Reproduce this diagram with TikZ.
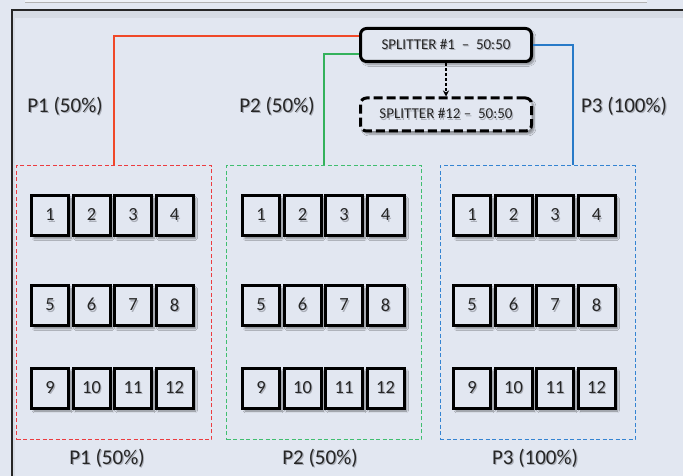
\documentclass[tikz,border=0pt]{standalone}
\usepackage{fontspec}
\setmainfont{Carlito}
\usetikzlibrary{shadows,shadows.blur,arrows.meta}
\definecolor{bg}{HTML}{E2E7F1}
\definecolor{redln}{RGB}{240,72,40}
\definecolor{grnln}{RGB}{52,178,92}
\definecolor{bluln}{RGB}{40,122,200}
\definecolor{redbx}{RGB}{236,60,64}
\definecolor{grnbx}{RGB}{64,190,112}
\definecolor{blubx}{RGB}{52,132,210}
\definecolor{txt}{RGB}{38,38,38}
\definecolor{txtsh}{RGB}{170,174,184}
\newcommand\shd[1]{\leavevmode\rlap{\hspace{1.2pt}\raisebox{-1.5pt}{\textcolor{txtsh}{#1}}}#1}
\tikzset{
  sq/.style={draw=black, line width=3pt, minimum width=37pt, minimum height=40pt, inner sep=0pt,
    fill=bg, text=txt, font=\fontsize{18.5}{20}\selectfont,
    blur shadow={shadow xshift=2.5pt, shadow yshift=-3pt, shadow blur steps=8, shadow opacity=45}},
  grp/.style={draw=#1, line width=1pt, dash pattern=on 4pt off 2.5pt, minimum width=195pt, minimum height=274pt, inner sep=0pt},
  splitbox/.style={draw=black, line width=3pt, rounded corners=6pt, minimum width=171pt, minimum height=33pt,
    inner sep=0pt, fill=bg, text=txt, font=\fontsize{15}{17}\selectfont,
    blur shadow={shadow xshift=2.5pt, shadow yshift=-3pt, shadow blur steps=8, shadow opacity=40}},
  lbl/.style={text=txt, font=\fontsize{21}{24}\selectfont, inner sep=0pt},
  conn/.style={line width=1.5pt},
}
\begin{document}
\begin{tikzpicture}[x=1pt,y=-1pt]
\fill[bg] (0,0) rectangle (683,476);
\useasboundingbox (0,0) rectangle (683,476);
% top strip
\fill[bg!60!white] (25,0) rectangle (647,1.8);
\draw[gray!60, line width=0.4pt] (25,1.8) -- (647,1.8);
% inner shadow of frame
\fill[black, opacity=0.05] (12,10) rectangle (683,18);
\fill[black, opacity=0.05] (12,18) rectangle (15,476);
% frame
\draw[line width=1.4pt, black!85] (12,476) -- (12,10) -- (683,10);

% group boxes
\node[grp=redbx] (p1) at (114,302.5) {};
\node[grp=grnbx] (p2) at (324,302.5) {};
\node[grp=blubx] (p3) at (537.5,302.5) {};

% squares
\foreach \g/\gx in {a/50,b/261,c/472} {
  \foreach \r/\ry in {0/215.5,1/305.5,2/388} {
    \foreach \c in {0,...,3} {
      \pgfmathtruncatemacro\n{\r*4+\c+1}
      \node[sq] (\g\n) at (\gx+\c*41.5,\ry) {\shd{\n}};
    }
  }
}

% splitters
\node[splitbox] (s1) at (446,45) {\shd{SPLITTER \#1\ \ –\ \ 50:50}};
\node[splitbox, dash pattern=on 9pt off 4pt] (s12) at (446,114.5) {\shd{SPLITTER \#12 –\ \ 50:50}};

% connectors
\coordinate (r0) at ([yshift=9pt]s1.west);
\coordinate (g0) at ([yshift=-9pt]s1.west);
\coordinate (b1) at (573,165);
\draw[conn, redln] (r0) -| (p1.north);
\draw[conn, grnln] (g0) -| (p2.north);
\draw[conn, bluln] (s1.east) -| (b1);
\draw[line width=1.3pt, dash pattern=on 3pt off 2pt, -{Stealth[length=6pt,width=6pt]}] (s1.south) -- (s12.north);

% labels
\node[lbl] (l1) at (65,107) {\shd{P1 (50\%)}};
\node[lbl] (l2) at (277,107) {\shd{P2 (50\%)}};
\node[lbl] (l3) at (624,107) {\shd{P3 (100\%)}};
\node[lbl] (b1l) at (107,459) {\shd{P1 (50\%)}};
\node[lbl] (b2l) at (320,459) {\shd{P2 (50\%)}};
\node[lbl] (b3l) at (535,459) {\shd{P3 (100\%)}};
\end{tikzpicture}
\end{document}
